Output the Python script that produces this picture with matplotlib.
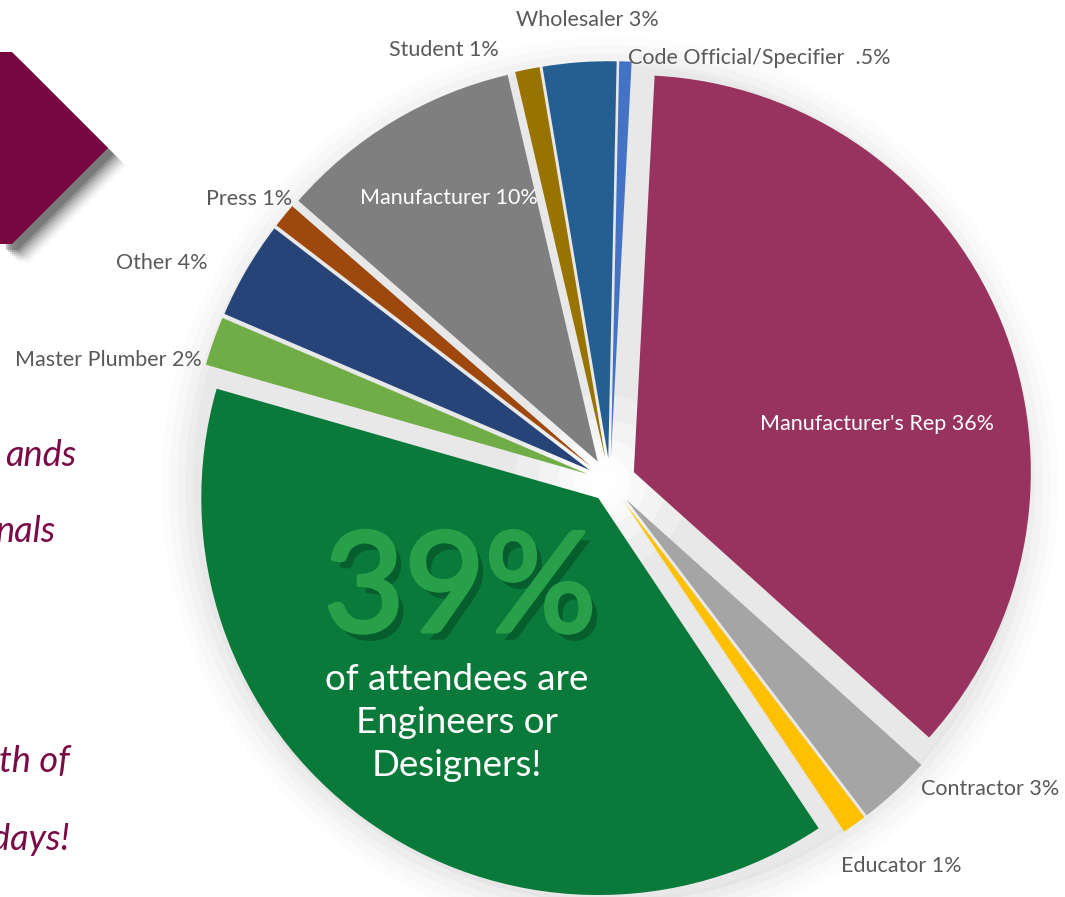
import matplotlib
matplotlib.use("Agg")
import matplotlib.pyplot as plt
import matplotlib.patheffects as pe
from matplotlib.patches import Polygon, Circle
import numpy as np

# ---- data ----
categories = ["Manufacturer's Rep", "Contractor", "Educator", "Engineers/Designers",
              "Master Plumber", "Other", "Press", "Manufacturer", "Student",
              "Wholesaler", "Code Official/Specifier"]
values = [36, 3, 1, 39, 2, 4, 1, 10, 1, 3, 0.5]
label_texts = ["Manufacturer's Rep 36%", "Contractor 3%", "Educator 1%", "",
               "Master Plumber 2%", "Other 4%", "Press 1%", "Manufacturer 10%",
               "Student 1%", "Wholesaler 3%", "Code Official/Specifier  .5%"]
colors = ["#98325F", "#A5A5A5", "#FFC000", "#0A7A3A", "#70AD47", "#264478",
          "#9E480E", "#7F7F7F", "#997300", "#255E91", "#4472C4"]
explode = [0.065, 0.06, 0.06, 0.05, 0.06, 0.06, 0.06, 0.06, 0.06, 0.06, 0.06]

# ---- layout (pixel positions in the 1065x897 canvas) ----
W, H = 1065, 897
CX, CY, RPX = 610, 482, 397
label_px = [(877, 424, 'center', 'white'), (990, 789, 'center', '#595959'),
            (901, 866, 'center', '#595959'), None,
            (108, 360, 'center', '#595959'), (162, 263, 'center', '#595959'),
            (249, 199, 'center', '#595959'), (449, 198, 'center', 'white'),
            (444, 50, 'center', '#595959'), (587, 20, 'center', '#595959'),
            (628, 58, 'left', '#595959')]

def d(px, py):
    return ((px - CX) / RPX, (CY - py) / RPX)

fig = plt.figure(figsize=(W / 100, H / 100), dpi=100)
ax = fig.add_axes([0, 0, 1, 1])

FONT = ['Lato', 'DejaVu Sans']

# soft shadow behind pie
for r, a in [(1.13, 0.02), (1.11, 0.03), (1.09, 0.04), (1.07, 0.05), (1.05, 0.07)]:
    ax.add_patch(Circle((0.0, -0.01), r, color='#808080', alpha=a, lw=0, zorder=1))
ax.add_patch(Circle((0, 0), 1.05, color='#E8E8E8', lw=0, zorder=2))
for r, a in [(0.22, 0.25), (0.16, 0.35), (0.11, 0.5), (0.07, 0.7), (0.04, 0.9)]:
    ax.add_patch(Circle((-0.02, 0.0), r, color='white', alpha=a, lw=0, zorder=3))

wedges, _ = ax.pie(values, colors=colors, explode=explode, startangle=87,
                   counterclock=False, radius=1.0,
                   wedgeprops=dict(linewidth=0, zorder=4))
for w in wedges:
    w.set_zorder(4)

ax.set_xlim(-CX / RPX, (W - CX) / RPX)
ax.set_ylim(-(H - CY) / RPX, CY / RPX)
ax.set_aspect('equal')
ax.axis('off')

# labels
for txt, pos in zip(label_texts, label_px):
    if pos is None or not txt:
        continue
    x, y = d(pos[0], pos[1])
    ax.text(x, y, txt, ha=pos[2], va='center', color=pos[3], fontsize=15.5,
            family=FONT, zorder=6)

# big callout inside green wedge
x, y = d(460, 592)
ax.text(x, y, "39%", ha='center', va='center', color='#28A04A', fontsize=100,
        family=FONT, zorder=6,
        path_effects=[pe.SimplePatchShadow(offset=(5, -6), shadow_rgbFace='#033d1c', alpha=0.45),
                      pe.Stroke(linewidth=3, foreground='#28A04A'),
                      pe.Normal()])
for t, py in [("of attendees are", 679), ("Engineers or", 722), ("Designers!", 766)]:
    x, y = d(457, py)
    ax.text(x, y, t, ha='center', va='center', color='white', fontsize=26.5,
            family=FONT, zorder=6)

# maroon arrow shape with shadow (top-left)
shape = [(0, 52), (12, 52), (108, 148), (12, 244), (0, 244)]
for k, a in [(18, 0.04), (16, 0.06), (14, 0.09), (12, 0.12), (10, 0.16), (8, 0.22), (6, 0.3)]:
    ax.add_patch(Polygon([d(px + k, py + k) for px, py in shape], closed=True,
                         color='#3a3a3a', alpha=a, lw=0, zorder=6))
ax.add_patch(Polygon([d(px, py) for px, py in shape], closed=True,
                     color='#76063F', lw=0, zorder=7))

# cut-off italic text on the left
for t, px, py in [("ands", 76, 455), ("nals", 56, 531), ("th of", 70, 762), ("days!", 70, 840)]:
    x, y = d(px, py)
    ax.text(x, y, t, ha='right', va='center', color='#7A0B47', fontsize=26,
            style='italic', family=FONT, zorder=7)

fig.savefig("out.png", dpi=100)
